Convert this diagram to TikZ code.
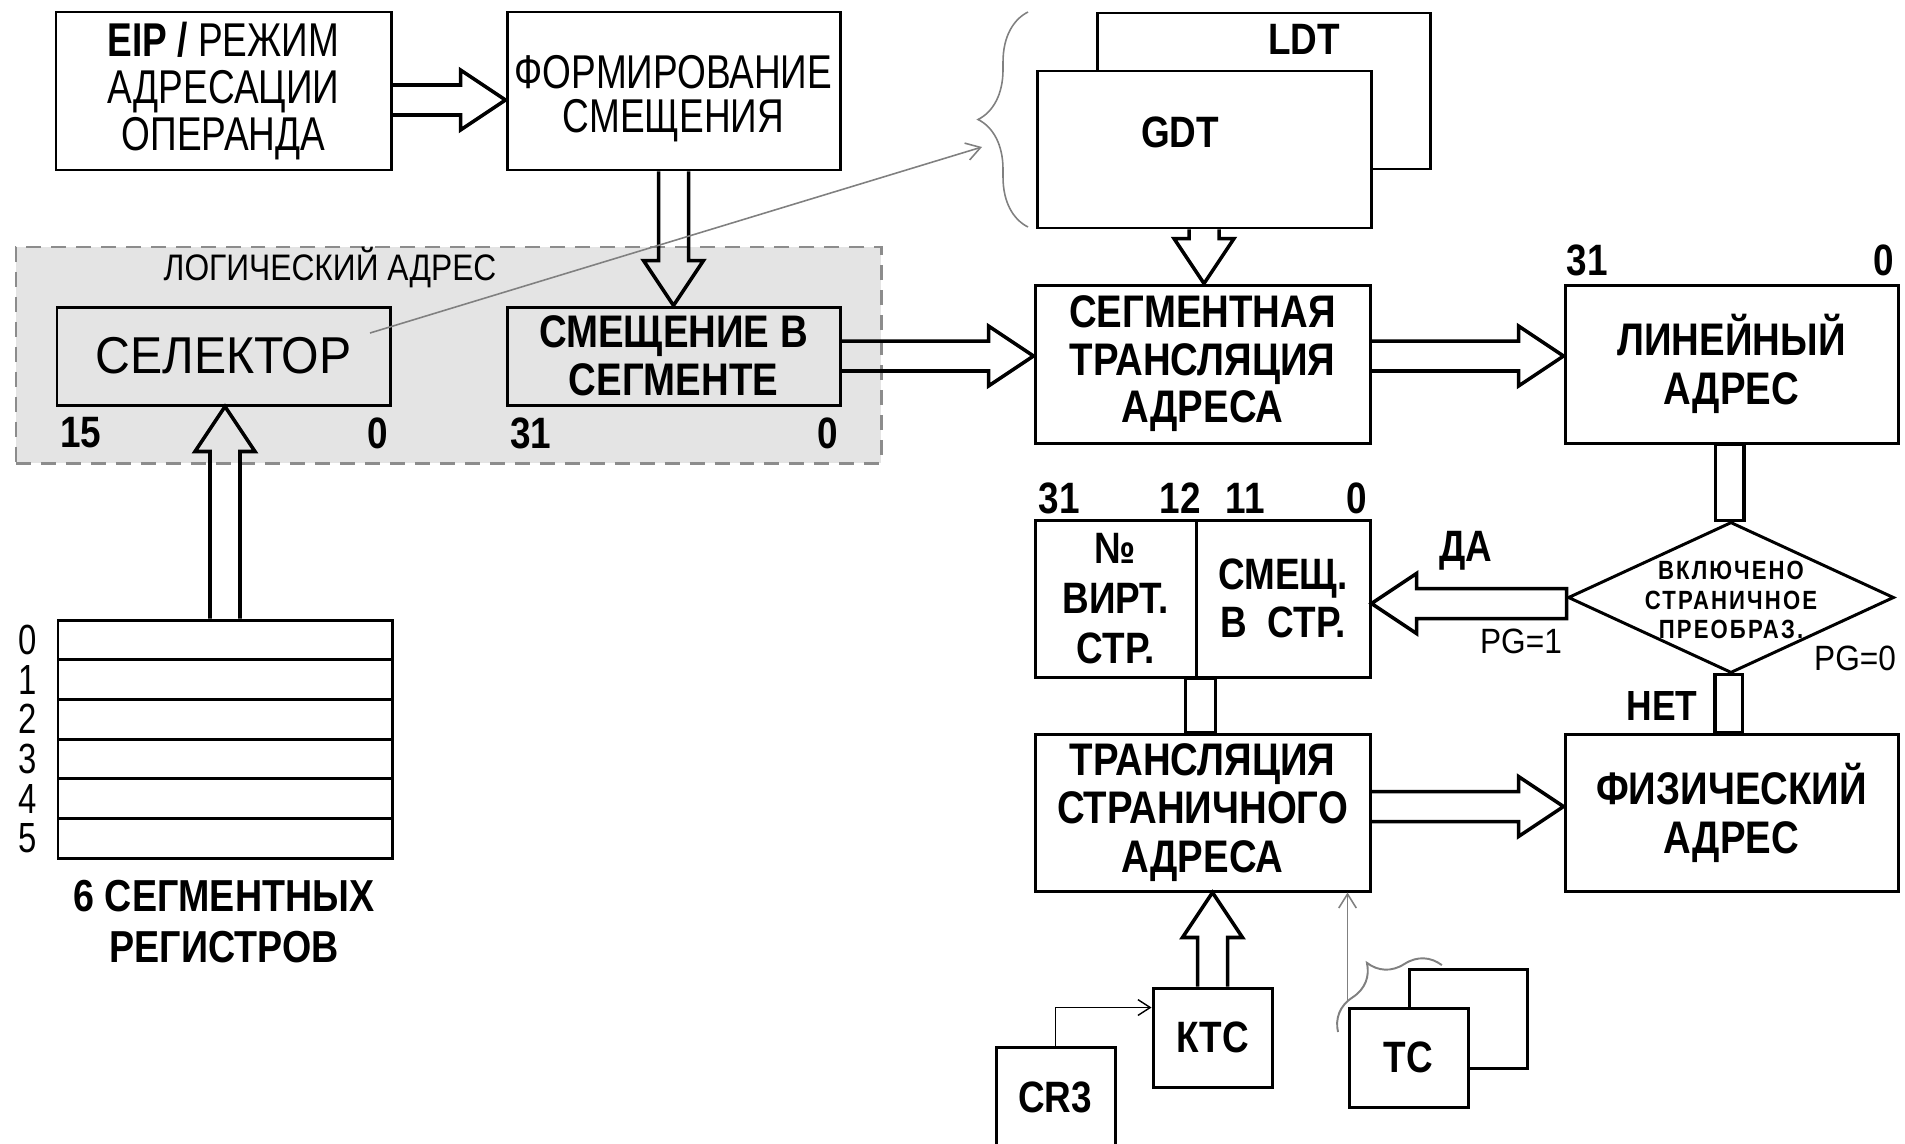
\documentclass[tikz,border=0pt]{standalone}
\usepackage{fontspec}
\setmainfont[FakeStretch=0.84]{Liberation Sans}
\newfontfamily\regfont[FakeStretch=0.78]{Liberation Sans}
\newfontfamily\selfont[FakeStretch=0.93]{Liberation Sans}
\newfontfamily\logfont[FakeStretch=0.86]{Liberation Sans}
\newfontfamily\pgfont[FakeStretch=0.9]{Liberation Sans}
\newfontfamily\diafont[FakeStretch=0.84,LetterSpace=8]{Liberation Sans}
\usetikzlibrary{calc,shapes.geometric,decorations.pathreplacing,arrows.meta}
\definecolor{logfill}{HTML}{E4E4E4}
\definecolor{dashgray}{HTML}{8C8C8C}
\definecolor{thingray}{HTML}{808080}
\newcommand\fsz[2]{\fontsize{#1}{#2}\selectfont}
\newcommand\BlkArrow[2]{%
  \coordinate (bah) at ($(#2)!0.9cm!(#1)$);
  \draw[blk] ($(#1)!0.3cm!90:(#2)$) -- ($(bah)!0.3cm!-90:(#1)$) -- ($(bah)!0.6cm!-90:(#1)$) -- (#2) -- ($(bah)!0.6cm!90:(#1)$) -- ($(bah)!0.3cm!90:(#1)$) -- ($(#1)!0.3cm!-90:(#2)$);}
\newcommand\BlkArrowC[2]{%
  \coordinate (bah) at ($(#2)!0.9cm!(#1)$);
  \draw[blk] ($(#1)!0.3cm!90:(#2)$) -- ($(bah)!0.3cm!-90:(#1)$) -- ($(bah)!0.6cm!-90:(#1)$) -- (#2) -- ($(bah)!0.6cm!90:(#1)$) -- ($(bah)!0.3cm!90:(#1)$) -- ($(#1)!0.3cm!-90:(#2)$) -- cycle;}
\tikzset{
  box/.style={draw, line width=1.7pt, rectangle, inner sep=0pt, align=center},
  wh/.style 2 args={minimum width=#1*0.02cm, minimum height=#2*0.02cm},
  bigtxt/.style={font=\bfseries\fsz{26}{27}},
  bits/.style={inner sep=0pt, font=\bfseries\fsz{25}{25}},
  lbl/.style={inner sep=0pt, align=center},
  blk/.style={draw, line width=2pt, line join=miter},
  thinblack/.style={draw=black, line width=0.8pt, -{Straight Barb[length=7pt,width=9pt]}},
  thingr/.style={draw=thingray, line width=0.9pt, -{Straight Barb[length=8pt,width=10pt]}},
  bracegr/.style={draw=thingray, line width=0.9pt, decorate},
}
\begin{document}
\begin{tikzpicture}[x=0.02cm, y=-0.02cm]
\useasboundingbox (0,0) rectangle (1905,1143);
\clip (0,0) rectangle (1905,1143);

% logical address region
\node[draw=dashgray, fill=logfill, line width=1.7pt, dash pattern=on 8.5pt off 5.7pt, rectangle, inner sep=0pt, wh={865}{216}] (logreg) at (448.5,355) {};
\node[lbl, font=\logfont\fsz{21}{21}] (logtitle) at (330,268) {ЛОГИЧЕСКИЙ АДРЕС};

% top row
\node[box, wh={335}{158}, font=\regfont\fsz{27}{26.5}] (eip) at (223.5,91) {{\bfseries EIP /} РЕЖИМ\\АДРЕСАЦИИ\\ОПЕРАНДА};
\node[box, wh={333}{158}] (form) at (673.5,91) {};
\node[lbl, font=\regfont\fsz{27}{25}] (formt) at (673.5,99) {ФОРМИРОВАНИЕ\\СМЕЩЕНИЯ};

% selector and offset
\node[box, fill=logfill, wh={333}{98}, font=\selfont\fsz{29.5}{29.5}] (sel) at (223.5,356) {СЕЛЕКТОР};
\node[box, fill=logfill, wh={333}{98}, font=\bfseries\fsz{26}{27.5}] (off) at (673.5,356) {СМЕЩЕНИЕ В\\СЕГМЕНТЕ};
\node[bits, anchor=west] (b15) at (60,433) {15};
\node[bits, anchor=east] (b0a) at (388,433) {0};
\node[bits, anchor=west] (b31a) at (510,433) {31};
\node[bits, anchor=east] (b0b) at (838,433) {0};

% segment registers
\foreach \i in {0,...,5} {
  \node[box, wh={334}{39.67}] (reg\i) at (225,{639.83+39.67*\i}) {};
  \node[lbl, font=\regfont\fsz{24}{24}] (ri\i) at (28,{639.83+39.67*\i}) {\i};
}
\node[lbl, font=\bfseries\fsz{25.5}{29}] (regtxt) at (224,922) {6 СЕГМЕНТНЫХ\\РЕГИСТРОВ};

% descriptor tables
\node[box, wh={333}{156}, fill=white] (ldt) at (1263.5,91) {};
\node[box, wh={334}{157}, fill=white] (gdt) at (1204,149.5) {};
\node[lbl, font=\bfseries\fsz{25}{25}] (ldtl) at (1304,39) {LDT};
\node[lbl, font=\bfseries\fsz{25}{25}] (gdtl) at (1180,132) {GDT};
\coordinate (brb) at (1028,227);
\coordinate (brt) at (1028,12);
\draw[bracegr, decoration={brace, amplitude=1cm}] (brb) -- (brt);

% segment translation, linear address
\node[box, wh={335}{158}, bigtxt] (seg) at (1202.5,364) {СЕГМЕНТНАЯ\\ТРАНСЛЯЦИЯ\\АДРЕСА};
\node[box, wh={333}{158}, font=\bfseries\fsz{26}{28}] (lin) at (1731.5,364) {ЛИНЕЙНЫЙ\\АДРЕС};
\node[bits] (b31l) at (1587,260) {31};
\node[bits] (b0l) at (1884,260) {0};

% paging decision
\node[draw, diamond, line width=1.7pt, inner sep=0pt, minimum width=326*0.02cm, minimum height=151*0.02cm] (dia) at (1731,597.5) {};
\node[lbl, font=\diafont\bfseries\fsz{15}{17}] (diat) at (1731,600) {ВКЛЮЧЕНО\\СТРАНИЧНОЕ\\ПРЕОБРАЗ.};
\node[lbl, font=\bfseries\fsz{25}{25}] (yes) at (1466,551) {ДА};
\node[lbl, font=\bfseries\fsz{24}{24}] (no) at (1662,706) {НЕТ};
\node[lbl, font=\pgfont\fsz{20}{20}] (pg1) at (1521,641) {PG=1};
\node[lbl, font=\pgfont\fsz{20}{20}] (pg0) at (1855,658) {PG=0};

% virtual page box
\node[box, wh={161}{157}, font=\bfseries\fsz{25}{28.5}] (pgl) at (1115.5,598.5) {№\\ВИРТ.\\СТР.};
\node[box, wh={174}{157}, font=\bfseries\fsz{25}{27}] (pgr) at (1283,598.5) {СМЕЩ.\\В\ \ СТР.};
\node[bits] (p31) at (1059,498) {31};
\node[bits] (p12) at (1180,498) {12};
\node[bits] (p11) at (1245,498) {11};
\node[bits] (p0) at (1357,498) {0};

% page translation, physical address
\node[box, wh={335}{157}, font=\bfseries\fsz{26}{27.5}] (trans) at (1202.5,812.5) {ТРАНСЛЯЦИЯ\\СТРАНИЧНОГО\\АДРЕСА};
\node[box, wh={333}{157}, font=\bfseries\fsz{26}{28}] (phys) at (1731.5,812.5) {\rule{0pt}{12pt}ФИЗИЧЕСКИЙ\\АДРЕС};

% bottom: KTC, CR3, TC
\node[box, wh={119}{99}, font=\bfseries\fsz{25}{25}] (ktc) at (1212.5,1037.5) {КТС};
\node[box, wh={119}{123}] (cr3) at (1055.5,1108.5) {};
\node[lbl, font=\bfseries\fsz{25}{25}] (cr3l) at (1055,1097) {CR3};
\node[box, wh={118}{99}, fill=white] (tcb) at (1468,1018.5) {};
\node[box, wh={119}{99}, fill=white, font=\bfseries\fsz{25}{25}] (tcf) at (1408.5,1057.5) {ТС};
\coordinate (tcbr1) at (1338,1032);
\coordinate (tcbr2) at (1442,965);
\draw[bracegr, line width=1.1pt, decoration={brace, amplitude=0.85cm}] (tcbr1) -- (tcbr2);

% block arrows
\coordinate (a1s) at ($(eip.east)+(0,9)$);
\coordinate (a1e) at ($(form.west)+(0,9)$);
\BlkArrow{a1s}{a1e}
\BlkArrow{form.south}{off.north}
\coordinate (a3e) at (reg0.north |- sel.south);
\BlkArrow{reg0.north}{a3e}
\coordinate (a4e) at (off.east -| seg.west);
\BlkArrow{off.east}{a4e}
\coordinate (a5s) at (off.east -| seg.east);
\coordinate (a5e) at (off.east -| lin.west);
\BlkArrow{a5s}{a5e}
\coordinate (a6e) at (gdt.south |- seg.north);
\BlkArrow{gdt.south}{a6e}
\coordinate (a7s) at ($(dia.west)+(0,6)$);
\coordinate (a7e) at (a7s -| pgr.east);
\BlkArrowC{a7s}{a7e}
\coordinate (a8s) at ($(trans.east)+(0,-6)$);
\coordinate (a8e) at (a8s -| phys.west);
\BlkArrow{a8s}{a8e}
\coordinate (a9e) at (ktc.north |- trans.south);
\BlkArrow{ktc.north}{a9e}

% plain bus connectors
\coordinate (c1a) at ($(lin.south)+(-16,0)$);
\coordinate (c1b) at ($(dia.north)+(13,0)$);
\draw[blk] (c1a) rectangle (c1b);
\coordinate (c2a) at ($(dia.south)+(-16,0)$);
\coordinate (c2b) at ($(phys.north)+(11,0)$);
\draw[blk] (c2a) rectangle (c2b);
\coordinate (c3a) at ($(pgl.south east)+(-12,0)$);
\coordinate (c3p) at (pgl.south east |- trans.north);
\coordinate (c3b) at ($(c3p)+(18,0)$);
\draw[blk] (c3a) rectangle (c3b);

% thin connectors
\coordinate (selp) at ($(sel.center)+(146.5,-23)$);
\coordinate (brtip) at (982,147);
\draw[thingr] (selp) -- (brtip);
\coordinate (ktcin) at ($(ktc.north west)+(0,21)$);
\draw[thinblack] (cr3.north) |- (ktcin);
\coordinate (tcst) at ($(tcf.north west)+(0,-6)$);
\draw[thingr] (tcst) -- (tcst |- trans.south);
\end{tikzpicture}
\end{document}
